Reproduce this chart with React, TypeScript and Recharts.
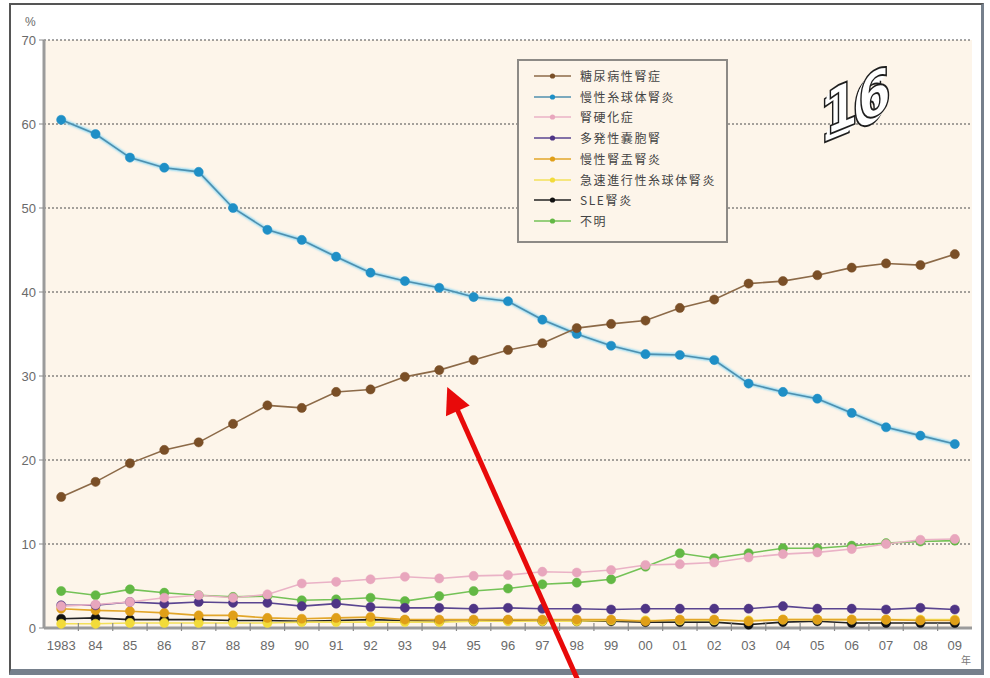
import React from 'react';
import { LineChart, Line, XAxis, YAxis, CartesianGrid, ReferenceDot } from 'recharts';

// Share (%) of new dialysis patients by primary disease, 1983–2009
const years = [
  1983, 1984, 1985, 1986, 1987, 1988, 1989, 1990, 1991, 1992, 1993, 1994, 1995, 1996,
  1997, 1998, 1999, 2000, 2001, 2002, 2003, 2004, 2005, 2006, 2007, 2008, 2009,
];
const yearLabels = [
  '1983', '84', '85', '86', '87', '88', '89', '90', '91', '92', '93', '94', '95', '96',
  '97', '98', '99', '00', '01', '02', '03', '04', '05', '06', '07', '08', '09',
];
const diabeticNephropathy = [
  15.6, 17.4, 19.6, 21.2, 22.1, 24.3, 26.5, 26.2, 28.1, 28.4, 29.9, 30.7, 31.9, 33.1,
  33.9, 35.7, 36.2, 36.6, 38.1, 39.1, 41.0, 41.3, 42.0, 42.9, 43.4, 43.2, 44.5,
];
const chronicGlomerulonephritis = [
  60.5, 58.8, 56.0, 54.8, 54.3, 50.0, 47.4, 46.2, 44.2, 42.3, 41.3, 40.5, 39.4, 38.9,
  36.7, 35.0, 33.6, 32.6, 32.5, 31.9, 29.1, 28.1, 27.3, 25.6, 23.9, 22.9, 21.9,
];
const nephrosclerosis = [
  2.6, 2.8, 3.1, 3.6, 3.9, 3.6, 4.0, 5.3, 5.5, 5.8, 6.1, 5.9, 6.2, 6.3,
  6.7, 6.6, 6.9, 7.5, 7.6, 7.8, 8.4, 8.8, 9.0, 9.4, 10.0, 10.5, 10.6,
];
const polycysticKidney = [
  2.7, 2.7, 3.1, 2.9, 3.1, 3.0, 3.0, 2.6, 2.9, 2.5, 2.4, 2.4, 2.3, 2.4,
  2.3, 2.3, 2.2, 2.3, 2.3, 2.3, 2.3, 2.6, 2.3, 2.3, 2.2, 2.4, 2.2,
];
const chronicPyelonephritis = [
  2.3, 2.1, 2.0, 1.8, 1.5, 1.5, 1.2, 1.1, 1.2, 1.3, 1.0, 1.0, 1.0, 1.0,
  1.0, 1.0, 1.0, 0.8, 1.0, 1.0, 0.8, 1.0, 1.0, 1.0, 1.0, 0.9, 0.9,
];
const rapidlyProgressiveGN = [
  0.5, 0.5, 0.6, 0.6, 0.6, 0.6, 0.6, 0.7, 0.7, 0.7, 0.7, 0.7, 0.8, 0.8,
  0.8, 0.8, 0.9, 0.9, 0.9, 0.9, 0.9, 1.0, 1.0, 1.0, 1.0, 1.0, 1.0,
];
const sleNephritis = [
  1.1, 1.2, 1.0, 1.0, 1.0, 0.9, 0.9, 0.8, 0.9, 1.0, 0.9, 0.8, 0.8, 0.9,
  0.8, 0.8, 0.8, 0.7, 0.7, 0.7, 0.4, 0.7, 0.8, 0.6, 0.6, 0.6, 0.6,
];
const unknownCause = [
  4.4, 3.9, 4.6, 4.2, 3.9, 3.7, 3.8, 3.3, 3.4, 3.6, 3.2, 3.8, 4.4, 4.7,
  5.2, 5.4, 5.8, 7.3, 8.9, 8.3, 8.9, 9.5, 9.5, 9.8, 10.1, 10.3, 10.4,
];
const yTicks = [0, 10, 20, 30, 40, 50, 60, 70];
const highlightYear = 1994;

type Series = { key: string; name: string; values: number[]; line: string; dot: string };

const series: Series[] = [
  { key: 'dm', name: '糖尿病性腎症', values: diabeticNephropathy, line: '#8c6a48', dot: '#7a4f27' },
  { key: 'cgn', name: '慢性糸球体腎炎', values: chronicGlomerulonephritis, line: '#4f8fae', dot: '#1f8fc6' },
  { key: 'ns', name: '腎硬化症', values: nephrosclerosis, line: '#eab2c6', dot: '#e8a6bd' },
  { key: 'pkd', name: '多発性嚢胞腎', values: polycysticKidney, line: '#5a4590', dot: '#4f3585' },
  { key: 'cpn', name: '慢性腎盂腎炎', values: chronicPyelonephritis, line: '#e2a62a', dot: '#e09f18' },
  { key: 'rpgn', name: '急速進行性糸球体腎炎', values: rapidlyProgressiveGN, line: '#f3e05a', dot: '#f2db3a' },
  { key: 'sle', name: 'SLE腎炎', values: sleNephritis, line: '#222222', dot: '#111111' },
  { key: 'unk', name: '不明', values: unknownCause, line: '#74c257', dot: '#63b845' },
];

// draw the dominant series last so they sit on top
const drawOrder = ['unk', 'sle', 'rpgn', 'cpn', 'pkd', 'ns', 'cgn', 'dm'].map(
  (k) => series.find((s) => s.key === k) as Series
);

const rows = years.map((year, i) => {
  const r: Record<string, number> = { year };
  series.forEach((s) => {
    r[s.key] = s.values[i];
  });
  return r;
});

// labels on whole years, small tick marks between categories
const xTicks = years.flatMap((y, i) => (i < years.length - 1 ? [y, y + 0.5] : [y]));

const NUM_FONT = '"Liberation Sans", Arial, sans-serif';
const JP_FONT = '"Noto Sans CJK JP", "Noto Sans CJK SC", sans-serif';
const PLOT_BG = '#fdf5ea';

const XTick = (props: any) => {
  const { x, y, payload } = props;
  const v = payload.value as number;
  if (Number.isInteger(v)) {
    const idx = years.indexOf(v);
    return (
      <text x={x} y={y + 22} textAnchor="middle" fontFamily={NUM_FONT} fontSize={13} fill="#6a6a6a">
        {yearLabels[idx]}
      </text>
    );
  }
  return <line x1={x} x2={x} y1={y - 5} y2={y + 3} stroke="#8a8a8a" strokeWidth={1.2} />;
};

const YTick = (props: any) => {
  const { x, y, payload } = props;
  return (
    <text x={x} y={y + 4.5} textAnchor="end" fontFamily={NUM_FONT} fontSize={13} fill="#6a6a6a">
      {payload.value}
    </text>
  );
};

const Arrow = (props: any) => {
  const { cx, cy } = props;
  if (cx == null || cy == null) return null;
  const tipX = cx + 8;
  const tipY = cy + 17;
  const tailX = cx + 143;
  const tailY = cy + 320;
  const dx = tipX - tailX;
  const dy = tipY - tailY;
  const len = Math.hypot(dx, dy);
  const ux = dx / len;
  const uy = dy / len;
  const nx = -uy;
  const ny = ux;
  const headLen = 26;
  const halfW = 13;
  const bx = tipX - ux * headLen;
  const by = tipY - uy * headLen;
  return (
    <g>
      <line x1={tailX} y1={tailY} x2={bx + ux * 2} y2={by + uy * 2} stroke="#e80a0a" strokeWidth={5} />
      <polygon
        points={`${tipX},${tipY} ${bx + nx * halfW},${by + ny * halfW} ${bx - nx * halfW},${by - ny * halfW}`}
        fill="#e80a0a"
      />
    </g>
  );
};

// isometric-style "16" badge in the upper right of the plot
const Logo = () => (
  <svg width={140} height={130} style={{ position: 'absolute', left: 790, top: 40 }}>
    <g
      transform="translate(35,96) skewY(-22) scale(0.95,1.25)"
      fontFamily='"DejaVu Sans", sans-serif'
      fontWeight={900}
      fontSize={50}
    >
      <text x={-6} y={5} fill="#fff" stroke="#1e1e1e" strokeWidth={1.5}>16</text>
      <text x={-4} y={3.3} fill="#fff">16</text>
      <text x={-2} y={1.7} fill="#fff">16</text>
      <text x={0} y={0} fill="#fff" stroke="#1e1e1e" strokeWidth={1.5}>16</text>
    </g>
  </svg>
);

const LegendBox = () => (
  <div
    style={{
      position: 'absolute',
      left: 517,
      top: 59,
      width: 207,
      height: 180,
      border: '2px solid #8d8a86',
      background: PLOT_BG,
    }}
  >
    {series.map((s, i) => (
      <div
        key={s.key}
        style={{
          position: 'absolute',
          left: 14,
          top: 5 + i * 20.7,
          height: 20,
          display: 'flex',
          alignItems: 'center',
          whiteSpace: 'nowrap',
        }}
      >
        <svg width={40} height={10} style={{ display: 'block' }}>
          <line x1={1} x2={38} y1={5} y2={5} stroke={s.line} strokeWidth={1.6} />
          <circle cx={19.5} cy={5} r={2.6} fill={s.dot} />
        </svg>
        <span
          style={{
            marginLeft: 7,
            fontFamily: JP_FONT,
            fontSize: 12,
            letterSpacing: 1.6,
            color: '#444',
            lineHeight: '20px',
          }}
        >
          {s.name}
        </span>
      </div>
    ))}
  </div>
);

export default function App() {
  const hiIdx = years.indexOf(highlightYear);
  return (
    <div style={{ position: 'absolute', left: 0, top: 0, width: 990, height: 678, background: '#fff', overflow: 'hidden' }}>
      <style>{`.glow-blue { filter: drop-shadow(0 0 1.3px #74d0f4) drop-shadow(0 0 1px #8fdaf6); }`}</style>
      <div
        style={{
          position: 'absolute',
          left: 9,
          top: 3,
          width: 970,
          height: 664,
          borderTop: '2px solid #555',
          borderLeft: '2px solid #555',
          borderRight: '3px solid #76808c',
          borderBottom: '6px solid #76808c',
        }}
      />
      <div style={{ position: 'absolute', left: 0, top: 0 }}>
        <LineChart width={990} height={678} data={rows} margin={{ top: 40, right: 18, bottom: 20, left: 0 }}>
          <CartesianGrid horizontal vertical={false} stroke="#4a4a4a" strokeDasharray="2 2" fill={PLOT_BG} />
          <XAxis
            dataKey="year"
            type="number"
            domain={[1982.5, 2009.5]}
            ticks={xTicks}
            interval={0}
            allowDecimals
            height={30}
            tickSize={0}
            tickMargin={0}
            tickLine={false}
            axisLine={{ stroke: '#9b9b9b', strokeWidth: 3 }}
            tick={<XTick />}
            label={(p: any) => {
              const vb = p.viewBox || {};
              return (
                <text x={(vb.x || 0) + (vb.width || 0) - 11} y={(vb.y || 0) + 36} fontFamily={JP_FONT} fontSize={10} fill="#777">
                  年
                </text>
              );
            }}
          />
          <XAxis
            xAxisId="top"
            orientation="top"
            type="number"
            domain={[1982.5, 2009.5]}
            height={0}
            tick={false}
            tickLine={false}
            axisLine={{ stroke: '#a5a5a5', strokeWidth: 1.5 }}
          />
          <YAxis
            domain={[0, 70]}
            ticks={yTicks}
            interval={0}
            width={44}
            tickSize={5}
            tickMargin={3}
            tickLine={{ stroke: '#8a8a8a' }}
            axisLine={{ stroke: '#9b9b9b', strokeWidth: 3 }}
            tick={<YTick />}
            label={(p: any) => {
              const vb = p.viewBox || {};
              return (
                <text x={(vb.x || 0) + 25} y={(vb.y || 0) - 14} fontFamily={NUM_FONT} fontSize={12} fill="#6a6a6a">
                  %
                </text>
              );
            }}
          />
          <YAxis
            yAxisId="right"
            orientation="right"
            width={0}
            tick={false}
            tickLine={false}
            axisLine={{ stroke: '#9b9b9b', strokeWidth: 2 }}
          />
          {drawOrder.map((s) => (
            <Line
              key={s.key}
              type="linear"
              dataKey={s.key}
              name={s.name}
              stroke={s.line}
              strokeWidth={1.6}
              dot={{ r: 4.6, fill: s.dot, stroke: s.dot, strokeWidth: 0.5 }}
              activeDot={false}
              isAnimationActive={false}
              className={s.key === 'cgn' ? 'glow-blue' : undefined}
            />
          ))}
          <ReferenceDot x={highlightYear} y={diabeticNephropathy[hiIdx]} r={0} shape={<Arrow />} />
        </LineChart>
      </div>
      <LegendBox />
      <Logo />
    </div>
  );
}
